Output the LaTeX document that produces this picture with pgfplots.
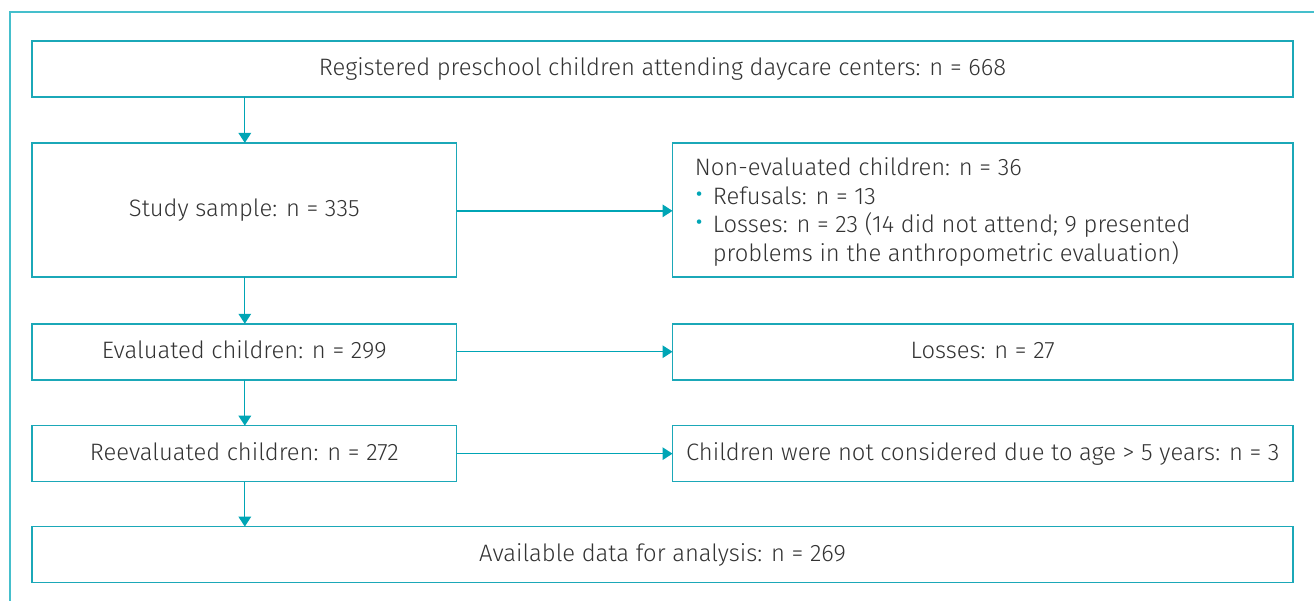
\documentclass[border=0pt]{standalone}
\usepackage{pgfplots}
\pgfplotsset{compat=1.18}
\usetikzlibrary{arrows.meta}
\usepackage{fontspec}
\setmainfont{Fira Sans}[UprightFont=* Light]
\definecolor{boxc}{HTML}{1BA8B8}
\definecolor{outc}{HTML}{45BFCC}
\definecolor{arrc}{HTML}{00A5B5}
\definecolor{txt}{HTML}{333333}
\newcommand{\blt}{\makebox[9pt][l]{\smash{\textcolor{arrc}{\fontsize{15pt}{15pt}\selectfont •}}}}
\begin{document}
\begin{tikzpicture}
\begin{axis}[width=657.5pt,height=300.5pt,scale only axis,
  xmin=0,xmax=1315,ymin=0,ymax=601,y dir=reverse,
  axis lines=none,clip=false]
% bounding area
\path (axis cs:0,0) rectangle (axis cs:1315,601);
% outer frame (top and left only)
\draw[outc,line width=1pt] (axis cs:10,601) -- (axis cs:10,12) -- (axis cs:1315,12);
% boxes
\begin{scope}[boxc,line width=0.8pt]
\draw (axis cs:32,41) rectangle (axis cs:1294,97);
\draw (axis cs:32,143) rectangle (axis cs:457,277);
\draw (axis cs:673,143) rectangle (axis cs:1294,277);
\draw (axis cs:32,324) rectangle (axis cs:457,380);
\draw (axis cs:673,324) rectangle (axis cs:1294,380);
\draw (axis cs:32,426) rectangle (axis cs:457,482);
\draw (axis cs:673,426) rectangle (axis cs:1294,482);
\draw (axis cs:32,527) rectangle (axis cs:1294,583);
\end{scope}
% arrows
\begin{scope}[arrc,line width=0.65pt,-{Triangle[width=6.3pt,length=5pt]}]
\draw (axis cs:245,97) -- (axis cs:245,143);
\draw (axis cs:245,277) -- (axis cs:245,324);
\draw (axis cs:245,380) -- (axis cs:245,426);
\draw (axis cs:245,482) -- (axis cs:245,527);
\draw (axis cs:457,211) -- (axis cs:673,211);
\draw (axis cs:457,352) -- (axis cs:673,352);
\draw (axis cs:457,454) -- (axis cs:673,454);
\end{scope}
% texts
\begin{scope}[every node/.style={text=txt,font=\fontsize{11.9pt}{14pt}\selectfont,inner sep=0pt,anchor=base}]
\node at (axis cs:663,75.5) {Registered preschool children attending daycare centers: n = 668};
\node at (axis cs:244.5,216.5) {Study sample: n = 335};
\node at (axis cs:244.5,358.5) {Evaluated children: n = 299};
\node at (axis cs:244.5,460.5) {Reevaluated children: n = 272};
\node at (axis cs:983.5,358.5) {Losses: n = 27};
\node at (axis cs:983.5,460.5) {Children were not considered due to age > 5 years: n = 3};
\node at (axis cs:663,561.5) {Available data for analysis: n = 269};
\node[anchor=base west] at (axis cs:695,176) {Non-evaluated children: n = 36};
\node[anchor=base west] at (axis cs:695,204.5) {\blt Refusals: n = 13};
\node[anchor=base west] at (axis cs:695,233) {\blt Losses: n = 23 (14 did not attend; 9 presented};
\node[anchor=base west] at (axis cs:713,262) {problems in the anthropometric evaluation)};
\end{scope}
\end{axis}
\end{tikzpicture}
\end{document}
